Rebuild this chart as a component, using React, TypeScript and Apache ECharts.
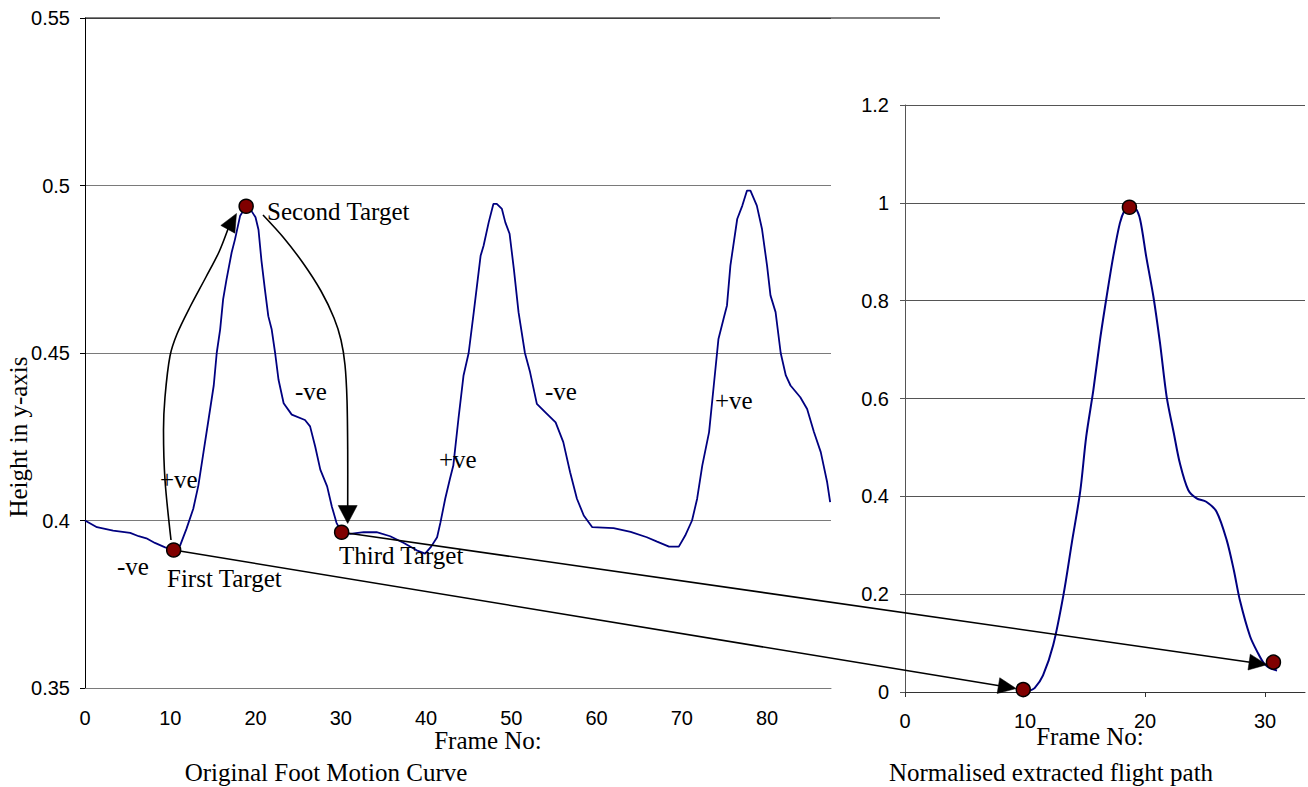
import React, { useEffect, useRef } from "react";
import * as echarts from "echarts";

// Original foot motion curve (frame number, height in y-axis)
const leftFrame = [
  0, 1.4, 3.3, 5.3, 6.3, 7.2, 8.2, 9.4, 10.4, 11.15,
  11.9, 12.7, 13.3, 13.9, 14.5, 15.1, 15.45, 15.85, 16.2, 16.6,
  17.2, 17.6, 18.2, 18.9, 19.5, 20.0, 20.35, 20.7, 21.1, 21.5,
  21.9, 22.3, 22.7, 23.3, 24.25, 25.8, 26.4, 27.0, 27.6, 28.4,
  28.95, 29.5, 30.1, 31.1, 32.7, 34.2, 35.8, 37.4, 38.9, 39.9,
  40.6, 41.3, 41.7, 42.25, 42.8, 43.2, 43.8, 44.4, 45.0, 45.6,
  46.4, 46.75, 47.35, 47.9, 48.3, 48.9, 49.3, 49.8, 50.3, 50.85,
  51.6, 52.2, 53.0, 54.0, 55.2, 56.1, 56.9, 57.7, 58.5, 59.5,
  62.0, 64.0, 65.9, 67.1, 68.5, 69.65, 70.4, 71.2, 71.8, 72.4,
  73.2, 73.75, 74.3, 74.9, 75.3, 75.7, 76.5, 77.1, 77.65, 78.05,
  78.8, 79.4, 80.0, 80.4, 81.0, 81.6, 82.2, 82.75, 83.9, 84.7,
  85.5, 86.3, 87.05, 87.4,
];
const leftHeight = [
  0.4, 0.398, 0.397, 0.3963, 0.3953, 0.3947, 0.3933, 0.392, 0.3912, 0.3925,
  0.3975, 0.4035, 0.4105, 0.4204, 0.4303, 0.4403, 0.45, 0.457, 0.466, 0.472,
  0.48, 0.484, 0.491, 0.4938, 0.4925, 0.4905, 0.4868, 0.4775, 0.469, 0.461,
  0.457, 0.45, 0.442, 0.435, 0.4316, 0.43, 0.4281, 0.4221, 0.4152, 0.4102,
  0.4042, 0.3993, 0.3965, 0.396, 0.3965, 0.3965, 0.3953, 0.3933, 0.3911, 0.3901,
  0.3922, 0.395, 0.3995, 0.4065, 0.4124, 0.4164, 0.4303, 0.4433, 0.45, 0.4622,
  0.479, 0.482, 0.489, 0.4945, 0.4945, 0.493, 0.489, 0.4856, 0.4751, 0.4622,
  0.45, 0.4443, 0.4348, 0.4323, 0.4293, 0.4234, 0.4144, 0.4065, 0.4015, 0.398,
  0.3977, 0.3966, 0.395, 0.3937, 0.3922, 0.3922, 0.3955, 0.4, 0.4065, 0.4164,
  0.4264, 0.4403, 0.4542, 0.4602, 0.4642, 0.4761, 0.49, 0.494, 0.4985, 0.4985,
  0.494, 0.4871, 0.4761, 0.4672, 0.4622, 0.45, 0.4433, 0.4403, 0.4368, 0.4333,
  0.4264, 0.4204, 0.4114, 0.4055,
];

// Normalised extracted flight path
const rightFrame = [
  10.3, 10.8, 11.5, 12.35, 13.2, 13.9, 14.6, 15.1, 15.7, 16.25,
  16.8, 17.35, 17.9, 18.3, 18.7, 19.2, 19.6, 20.1, 20.7, 21.25,
  21.8, 22.4, 22.9, 23.6, 24.3, 25.1, 25.95, 26.8, 27.4, 27.9,
  28.75, 29.4, 29.9, 30.4, 31.0,
];
const rightHeight = [
  0.002, 0.008, 0.034, 0.096, 0.198, 0.305, 0.41, 0.522, 0.618, 0.72,
  0.808, 0.89, 0.958, 0.985, 0.993, 0.989, 0.965, 0.89, 0.808, 0.713,
  0.604, 0.529, 0.468, 0.413, 0.396, 0.389, 0.369, 0.311, 0.249, 0.188,
  0.114, 0.08, 0.059, 0.049, 0.044,
];

// Targets
const targetNames = ["First Target", "Second Target", "Third Target"];
const leftTargetFrame = [10.4, 18.9, 30.1];
const leftTargetHeight = [0.3912, 0.4938, 0.3965];
const rightTargetFrame = [9.85, 18.7, 30.7];
const rightTargetHeight = [0.005, 0.991, 0.061];

const rightFrameTicks = [0, 10, 20, 30];
const slopeLabels = ["-ve", "+ve", "-ve", "+ve", "-ve", "+ve"];

const SERIF = "'Liberation Serif', 'Times New Roman', serif";
const SANS = "'Liberation Sans', Arial, sans-serif";
const NAVY = "#000080";
const GRID = "#7a7a7a";

function head(tx: number, ty: number, dx: number, dy: number, len: number, half: number) {
  const l = Math.hypot(dx, dy);
  const ux = dx / l, uy = dy / l;
  const bx = tx - ux * len, by = ty - uy * len;
  return {
    type: "polygon",
    z: 3,
    shape: { points: [[tx, ty], [bx - uy * half, by + ux * half], [bx + uy * half, by - ux * half]] },
    style: { fill: "#000", stroke: "#000", lineWidth: 0.5 },
  };
}

function txt(text: string, x: number, y: number, align = "left", extra: any = {}) {
  return {
    type: "text",
    x,
    y,
    z: 4,
    ...extra,
    style: { text, fontFamily: SERIF, fontSize: 25, fill: "#000", align, verticalAlign: "middle" },
  };
}

export default function App() {
  const ref = useRef<HTMLDivElement>(null);
  useEffect(() => {
    if (!ref.current) return;
    const chart = echarts.init(ref.current, null, { renderer: "svg" });
    const labelStyle = { fontFamily: SANS, fontSize: 20, color: "#000" };
    chart.setOption({
      animation: false,
      backgroundColor: "#fff",
      grid: [
        { left: 85, top: 18, width: 746, height: 670 },
        { left: 905, top: 105, width: 400, height: 587 },
      ],
      xAxis: [
        {
          type: "value", gridIndex: 0, min: 0, max: 87.5, interval: 10,
          axisLine: { show: true, onZero: false, lineStyle: { color: GRID, width: 1 } },
          axisTick: { show: false },
          axisLabel: { ...labelStyle, margin: 20, showMaxLabel: false },
          splitLine: { show: false },
        },
        {
          type: "value", gridIndex: 1, min: 0, max: 33.33, interval: 10,
          axisLine: { show: true, onZero: false, lineStyle: { color: "#333", width: 1 } },
          axisTick: { show: true, length: 5, lineStyle: { color: "#333" }, customValues: rightFrameTicks },
          axisLabel: { ...labelStyle, margin: 19, customValues: rightFrameTicks },
          splitLine: { show: false },
        },
      ],
      yAxis: [
        {
          type: "value", gridIndex: 0, min: 0.35, max: 0.55, interval: 0.05,
          axisLine: { show: true, lineStyle: { color: "#000", width: 1 } },
          axisTick: { show: true, length: 5, lineStyle: { color: "#000" } },
          axisLabel: { ...labelStyle, margin: 15 },
          splitLine: { show: true, lineStyle: { color: GRID, width: 1 } },
        },
        {
          type: "value", gridIndex: 1, min: 0, max: 1.2, interval: 0.2,
          axisLine: { show: true, lineStyle: { color: "#555", width: 1 } },
          axisTick: { show: true, length: 5, lineStyle: { color: "#555" } },
          axisLabel: { ...labelStyle, margin: 16 },
          splitLine: { show: true, lineStyle: { color: "#555", width: 1 } },
        },
      ],
      series: [
        {
          type: "line", xAxisIndex: 0, yAxisIndex: 0, symbol: "none", z: 2,
          data: leftFrame.map((f, i) => [f, leftHeight[i]]),
          lineStyle: { color: NAVY, width: 1.8 },
        },
        {
          type: "line", xAxisIndex: 1, yAxisIndex: 1, symbol: "none", smooth: 0.3, z: 2,
          data: rightFrame.map((f, i) => [f, rightHeight[i]]),
          lineStyle: { color: NAVY, width: 2 },
        },
        {
          type: "scatter", xAxisIndex: 0, yAxisIndex: 0, symbolSize: 14, z: 6,
          data: leftTargetFrame.map((f, i) => ({ name: targetNames[i], value: [f, leftTargetHeight[i]] })),
          itemStyle: { color: "#800000", borderColor: "#000", borderWidth: 1.5, opacity: 1 },
        },
        {
          type: "scatter", xAxisIndex: 1, yAxisIndex: 1, symbolSize: 14, z: 6,
          data: rightTargetFrame.map((f, i) => ({ name: targetNames[i], value: [f, rightTargetHeight[i]] })),
          itemStyle: { color: "#800000", borderColor: "#000", borderWidth: 1.5, opacity: 1 },
        },
      ],
    });

    const pL = leftTargetFrame.map((f, i) => chart.convertToPixel({ gridIndex: 0 } as any, [f, leftTargetHeight[i]]) as number[]);
    const pR = rightTargetFrame.map((f, i) => chart.convertToPixel({ gridIndex: 1 } as any, [f, rightTargetHeight[i]]) as number[]);

    const els: any[] = [];
    const lineStyle = { stroke: "#000", lineWidth: 1.6, fill: null };

    // top border of left plot
    els.push({ type: "line", z: 3, shape: { x1: 85, y1: 18, x2: 940, y2: 18 }, style: { stroke: "#000", lineWidth: 1 } });

    // curved arrow: first -> second target
    els.push({
      type: "polyline", z: 3,
      shape: {
        points: [[171, 540], [165, 480], [163.5, 430], [165, 397], [170, 356], [177, 334], [190, 307], [206, 277], [219, 252], [228, 229]],
        smooth: 0.3,
      },
      style: lineStyle,
    });
    els.push(head(236.5, 213.5, 9, -16.4, 18, 8));

    // curved arrow: second -> third target
    els.push({
      type: "polyline", z: 3,
      shape: {
        points: [[263, 215], [283, 237], [303, 263], [321, 291], [334, 318], [341, 340], [345, 365], [347, 400], [347.7, 450], [347.7, 506]],
        smooth: 0.3,
      },
      style: lineStyle,
    });
    els.push(head(347.7, 523.5, 0, 1, 18, 9.5));

    // straight arrows to normalised path
    const straight = (a: number[], tip: number[]) => {
      const dx = tip[0] - a[0], dy = tip[1] - a[1];
      const l = Math.hypot(dx, dy);
      const bx = tip[0] - (dx / l) * 17, by = tip[1] - (dy / l) * 17;
      els.push({ type: "line", z: 3, shape: { x1: a[0], y1: a[1], x2: bx, y2: by }, style: { stroke: "#000", lineWidth: 1.6 } });
      els.push(head(tip[0], tip[1], dx, dy, 18, 8));
    };
    straight(pL[0], [pR[0][0] - 7, pR[0][1] - 1]);
    straight(pL[2], [pR[2][0] - 6.5, pR[2][1] + 2.5]);

    // slope annotations
    const slopePos = [[117, 566], [160, 479], [295, 391], [439, 459], [545, 391], [715, 400]];
    slopeLabels.forEach((s, i) => els.push(txt(s, slopePos[i][0], slopePos[i][1])));

    // target labels
    els.push(txt(targetNames[0], 167, 578));
    els.push(txt(targetNames[1], 267, 211));
    els.push(txt(targetNames[2], 339, 555));

    // axis titles and captions
    els.push(txt("Frame No:", 488, 740, "center"));
    els.push(txt("Original Foot Motion Curve", 326, 772, "center"));
    els.push(txt("Frame No:", 1090, 736, "center"));
    els.push(txt("Normalised extracted flight path", 1051, 772, "center"));
    els.push(txt("Height in y-axis", 18, 437, "center", { rotation: Math.PI / 2 }));

    chart.setOption({ graphic: { elements: els } });

    return () => chart.dispose();
  }, []);

  return <div ref={ref} style={{ position: "absolute", left: 0, top: 0, width: 1308, height: 787 }} />;
}
